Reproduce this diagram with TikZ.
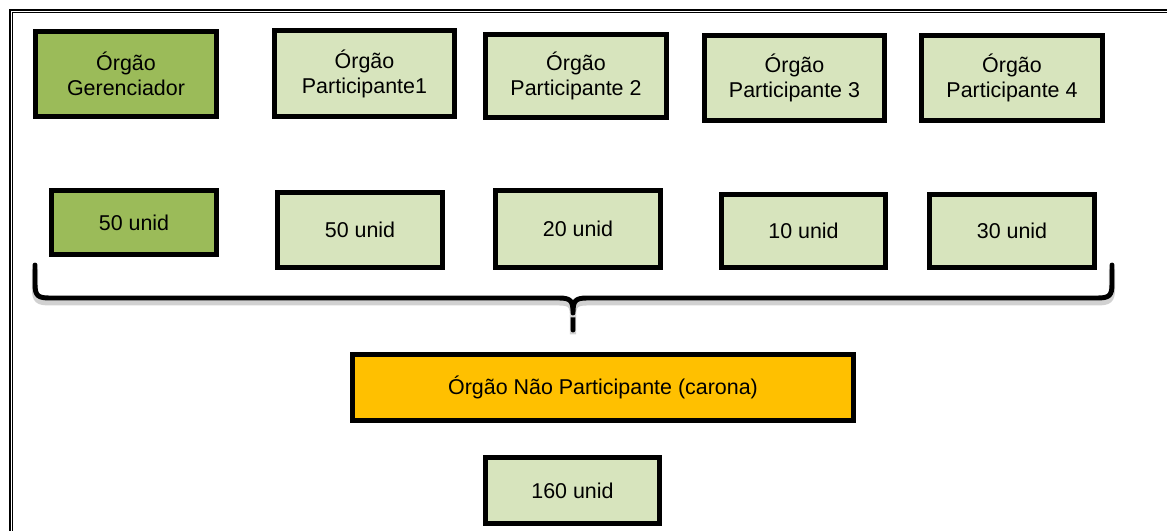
\documentclass[tikz,border=0pt]{standalone}
\usepackage{fontspec}
\setmainfont{Liberation Sans}
\usepackage{xcolor}
\usepackage{tikz}
\usetikzlibrary{positioning,shadows}
\definecolor{gergreen}{HTML}{9BBB59}
\definecolor{partgreen}{HTML}{D7E4BD}
\definecolor{caronaorange}{HTML}{FFC000}

\begin{document}
\begin{tikzpicture}[
        x=0.02cm, y=-0.02cm,
        block/.style={rectangle, draw=black, line width=2.8pt, align=center, inner sep=0pt,
            font=\fontsize{12.2}{14.2}\selectfont,
            drop shadow={shadow xshift=0.6pt, shadow yshift=-0.6pt, opacity=0.25}},
        gerente/.style={block, fill=gergreen},
        partic/.style={block, fill=partgreen},
        carona/.style={block, fill=caronaorange},
        chave/.style={line width=2.8pt, line cap=round, line join=round,
            preaction={draw=black!18, line width=3.5pt, transform canvas={yshift=-2.5pt}}}
    ]
        \useasboundingbox (0,0) rectangle (1167,531);
        \clip (0,0) rectangle (1167,531);

        % moldura dupla
        \draw[line width=1.1pt] (10.3,10.3) rectangle (1200,560);
        \draw[line width=0.6pt] (12.8,12.8) rectangle (1197,557);

        % orgaos
        \node[gerente, minimum width=3.62cm, minimum height=1.70cm] (ger) at (126,74) {Órgão\\Gerenciador};
        \node[partic, minimum width=3.60cm, minimum height=1.72cm] (part1) at (364.5,73.5) {Órgão\\Participante1};
        \node[partic, minimum width=3.62cm, minimum height=1.66cm] (part2) at (576,76) {Órgão\\Participante 2};
        \node[partic, minimum width=3.60cm, minimum height=1.70cm] (part3) at (794.5,78) {Órgão\\Participante 3};
        \node[partic, minimum width=3.62cm, minimum height=1.70cm] (part4) at (1012,78) {Órgão\\Participante 4};

        % quantidades
        \node[gerente, minimum width=3.30cm, minimum height=1.28cm] (qger) at (134,222.5) {50 unid};
        \node[partic, minimum width=3.30cm, minimum height=1.50cm] (qpart1) at (360,230) {50 unid};
        \node[partic, minimum width=3.30cm, minimum height=1.54cm] (qpart2) at (578,229) {20 unid};
        \node[partic, minimum width=3.28cm, minimum height=1.46cm] (qpart3) at (803.5,231) {10 unid};
        \node[partic, minimum width=3.30cm, minimum height=1.46cm] (qpart4) at (1012,231) {30 unid};

        % chave
        \coordinate (chaveE) at (35,265);
        \coordinate (chaveD) at (1112,265);
        \coordinate (chaveP) at (573,330);
        \draw[chave] (chaveE) -- (35,284) .. controls (35,296) and (38,298) .. (50,298)
            -- (559,298) .. controls (571,298) and (573,301) .. (573,313) -- (chaveP);
        \draw[chave] (chaveD) -- (1112,284) .. controls (1112,296) and (1109,298) .. (1097,298)
            -- (587,298) .. controls (575,298) and (573,301) .. (573,313);

        % carona
        \node[carona, minimum width=10.02cm, minimum height=1.32cm] (carona) at (603,387.5) {Órgão Não Participante (carona)};
        \node[partic, minimum width=3.48cm, minimum height=1.32cm] (qcarona) at (572.5,490.5) {160 unid};
    \end{tikzpicture}
\end{document}
